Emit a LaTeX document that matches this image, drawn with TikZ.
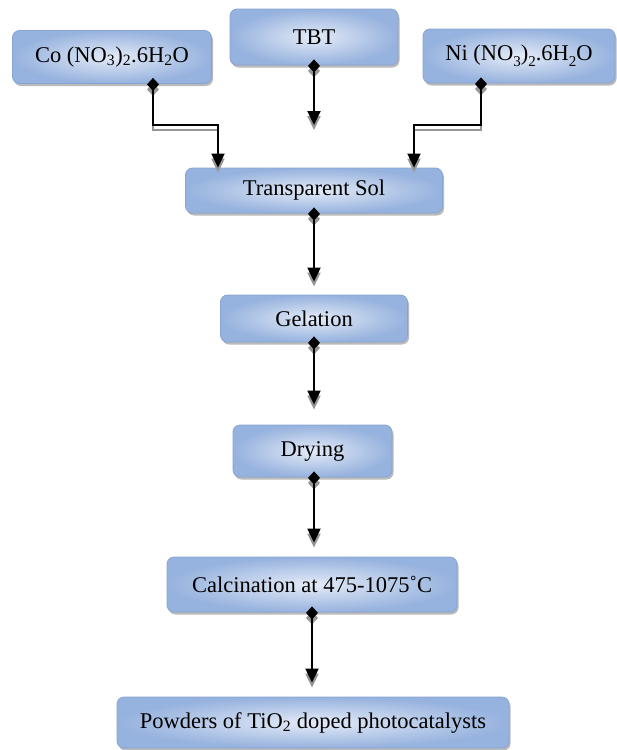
\documentclass[tikz,border=0pt]{standalone}
\usepackage{fontspec}
\setmainfont{Liberation Serif}
\usetikzlibrary{arrows.meta,shadows,calc}
\definecolor{boxdark}{RGB}{150,178,222}
\definecolor{boxlight}{RGB}{228,235,247}
\definecolor{boxedge}{RGB}{135,165,212}
\definecolor{shadowgray}{RGB}{150,150,150}
\newcommand{\lsub}[1]{\raisebox{-0.6ex}{\fontsize{15}{15}\selectfont #1}}
\newcommand{\conn}[1]{%
  \draw[flow, shadowgray, transform canvas={yshift=-5pt}] #1;
  \draw[flow] #1;}
\begin{document}
\begin{tikzpicture}[x=1pt,y=-1pt,
  box/.style={draw=boxedge, line width=0.8pt, rounded corners=7pt,
    inner color=boxlight, outer color=boxdark,
    drop shadow={shadow xshift=1.5pt, shadow yshift=-2.5pt, fill=black!45, opacity=0.6},
    font=\fontsize{22.5}{26}\selectfont, inner sep=0pt, align=center},
  flow/.style={line width=2pt,
    {Diamond[width=12pt,length=13pt]}-{Triangle[width=13pt,length=14pt]}}]
\useasboundingbox (0,0) rectangle (617,750);

\node[box, minimum width=199pt, minimum height=53pt] (co) at (112,57) {Co (NO\textsubscript{3})\textsubscript{2}.6H\textsubscript{2}O};
\node[box, minimum width=168pt, minimum height=56pt] (tbt) at (314,37) {TBT};
\node[box, minimum width=192pt, minimum height=54pt] (ni) at (519,56) {Ni (NO\lsub{3})\lsub{2}.6H\lsub{2}O};
\node[box, minimum width=257pt, minimum height=45pt] (sol) at (314,190.5) {Transparent Sol};
\node[box, minimum width=187pt, minimum height=47pt] (gel) at (314,318.5) {Gelation};
\node[box, minimum width=159pt, minimum height=52pt] (dry) at (312.5,451) {Drying};
\node[box, minimum width=290pt, minimum height=55pt] (cal) at (312,584.5) {Calcination at 475-1075˚C};
\node[box, minimum width=392pt, minimum height=51pt] (pow) at (313,722.5) {Powders of TiO\textsubscript{2} doped photocatalysts};

\coordinate (tbtend) at (314,125);
\coordinate (cojoin) at (153,125);
\coordinate (nijoin) at (481,125);

\conn{([yshift=6pt]tbt.south) -- (tbtend)}
\conn{([xshift=41pt,yshift=6pt]co.south) -- (cojoin) -| ([xshift=-96pt]sol.north)}
\conn{([xshift=-38pt,yshift=6pt]ni.south) -- (nijoin) -| ([xshift=100pt]sol.north)}
\conn{([yshift=6pt]sol.south) -- ([yshift=13pt]sol.south |- gel.north)}
\conn{([yshift=6pt]gel.south) -- ([yshift=20pt]gel.south |- dry.north)}
\conn{([xshift=1.5pt,yshift=6pt]dry.south) -- ([xshift=1.5pt,yshift=14pt]dry.south |- cal.north)}
\conn{([yshift=6pt]cal.south) -- ([yshift=14pt]cal.south |- pow.north)}
\end{tikzpicture}
\end{document}
